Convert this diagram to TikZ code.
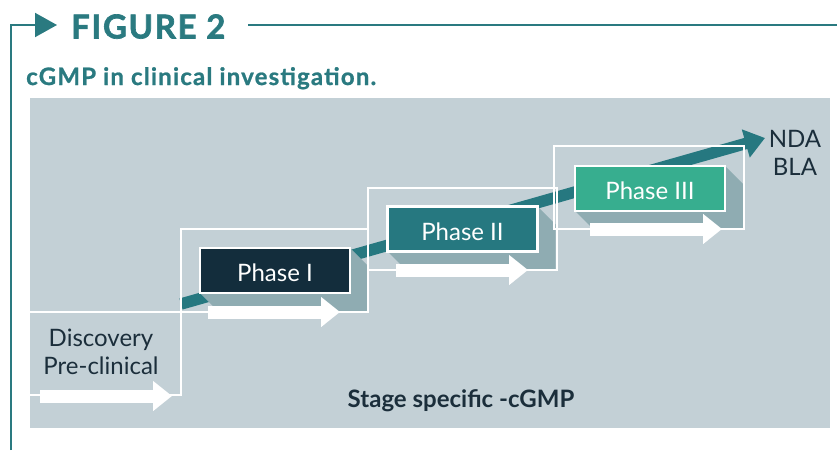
\documentclass[tikz,border=0pt]{standalone}
\usepackage{fontspec}
\setmainfont{Lato}
\usetikzlibrary{arrows.meta}

\definecolor{figteal}{HTML}{2A7A80}
\definecolor{panelgray}{HTML}{C3D0D6}
\definecolor{trackteal}{HTML}{267880}
\definecolor{phasenavy}{HTML}{132D3C}
\definecolor{phasegreen}{HTML}{37AE8F}
\definecolor{shadowgray}{HTML}{8FACB2}
\definecolor{darktext}{HTML}{1B2E3B}

\begin{document}
\begin{tikzpicture}[x=1pt, y=-1pt,
    phasebox/.style={draw=white, line width=2.5pt, minimum width=150pt, minimum height=45pt,
        inner sep=0pt, text=white, font=\fontsize{24}{28}\selectfont, text height=22pt, text depth=0pt},
    stepline/.style={white, line width=2pt},
    stagearrow/.style={white, line width=13pt, line cap=butt, -{Triangle[width=29pt,length=19pt]}},
    phaseshadow/.style={fill=shadowgray},
    label/.style={text=darktext, align=center, font=\fontsize{24}{28}\selectfont}
]
    \useasboundingbox (0,0) rectangle (837,450);

    % heading
    \draw[figteal, line width=2pt, -{Triangle[width=24pt,length=22pt]}] (11,450) |- (57,25);
    \node[anchor=base west, inner sep=0pt, text=figteal,
        font=\fontsize{33}{38}\selectfont\bfseries\addfontfeatures{LetterSpace=5,FakeBold=2}] (title) at (71,38.5) {FIGURE 2};
    \draw[figteal, line width=2pt] (248,25) -- (837,25);
    \node[anchor=base west, inner sep=0pt, text=figteal,
        font=\fontsize{24}{28}\selectfont\bfseries\addfontfeatures{LetterSpace=5,FakeBold=1}] (subtitle) at (26,85) {cGMP in clinical investigation.};

    % panel
    \fill[panelgray] (30,98) rectangle (830,428);

    % rising track
    \coordinate (trackstart) at (181,304);
    \coordinate (trackend) at (765,138);
    \draw[trackteal, line width=11.5pt, line cap=butt, -{Triangle[width=28pt,length=20pt]}] (trackstart) -- (trackend);

    % shadows
    \fill[phaseshadow] (350,248) -- (368,266) -- (368,311) -- (218,311) -- (200,293) -- cycle;
    \fill[phaseshadow] (537.5,206.5) -- (555.5,224.5) -- (555.5,269.5) -- (405.5,269.5) -- (387.5,251.5) -- cycle;
    \fill[phaseshadow] (725,166) -- (743,184) -- (743,229) -- (593,229) -- (575,211) -- cycle;

    % steps
    \draw[stepline] (30,312) -| (181,395) -- (30,395);
    \draw[stepline] (181,229) rectangle (368,312);
    \draw[stepline] (368,188) rectangle (557,270);
    \draw[stepline] (554,146) rectangle (744,229);

    % phases
    \node[phasebox, fill=phasenavy] (phaseI) at (275,270.5) {Phase I};
    \node[phasebox, fill=trackteal] (phaseII) at (462.5,229) {Phase II};
    \node[phasebox, fill=phasegreen] (phaseIII) at (650,188.5) {Phase III};

    % stage arrows
    \draw[stagearrow] (40,396) -- (172,396);
    \draw[stagearrow] (208,312) -- (340,312);
    \draw[stagearrow] (396,270) -- (528,270);
    \draw[stagearrow] (590,229) -- (722,229);

    % labels
    \node[label] (discovery) at (101,352) {Discovery\\Pre-clinical};
    \node[label] (ndabla) at (795,152.5) {NDA\\BLA};
    \node[anchor=base, inner sep=0pt, text=darktext, font=\fontsize{24}{28}\selectfont\bfseries] (stage) at (461,407) {Stage specific -cGMP};

\end{tikzpicture}
\end{document}
